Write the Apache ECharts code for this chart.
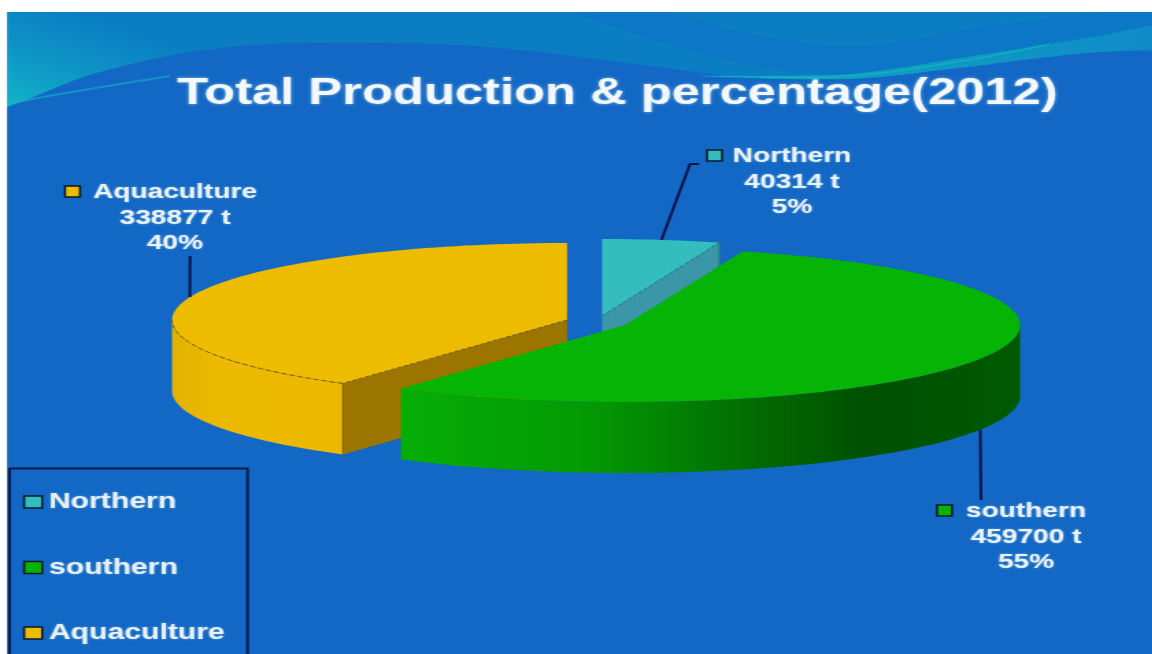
<!DOCTYPE html>
<html><head><meta charset="utf-8">
<style>
html,body{margin:0;padding:0;background:#fff;overflow:hidden}
#c{width:841px;height:654px;transform-origin:0 0;transform:scaleX(1.37)}
</style>
<script src="https://cdn.jsdelivr.net/npm/echarts@6/dist/echarts.min.js"></script>
</head><body><div id="c"></div>
<script>
// ---- data ----
const categories = ['Northern', 'southern', 'Aquaculture'];
const tonnes = [40314, 459700, 338877];
const percents = [5, 55, 40];
const titleText = 'Total Production & percentage(2012)';

// ---- layout (design pixels, the page stretches text & marks horizontally) ----
const S = 1.37, X = x => x / S;
const RX = 395, RY = 77, DEPTH = 71;
const INK = '#0a1248';
const look = {
  Northern: {c: [602, 316], top: '#33BDBD', wall: '#3B96A8', z: 4, cut: 'end', edge: '#2a6f80',
    leader: [[690, 164], [699, 164]], swatch: [707, 150], text: [792, 144]},
  southern: {c: [625, 325], top: '#05B405', z: 5, rimFrom: 'bottom', edge: '#078a07',
    leader: [[981, 500]], swatch: [937, 505], text: [1026, 499]},
  Aquaculture: {c: [567, 320], top: '#EDBB00', wall: '#9C7400', z: 3, cut: 'start', edge: '#7d5b00',
    leader: [[190, 256]], swatch: [65, 186], text: [175, 180]}
};
const total = tonnes.reduce((a, b) => a + b, 0);
const rad = d => d * Math.PI / 180;

function spans(i) {
  let a = 0;
  for (let k = 0; k < i; k++) a += tonnes[k] / total * 360;
  return [a, a + tonnes[i] / total * 360];
}
function arc(c, a0, a1, dy) {
  const out = [], n = Math.max(2, Math.ceil((a1 - a0) / 1.5));
  for (let k = 0; k <= n; k++) {
    const t = rad(a0 + (a1 - a0) * k / n);
    out.push([X(c[0] + RX * Math.sin(t)), c[1] - RY * Math.cos(t) + dy]);
  }
  return out;
}
function rimFill(name) {
  if (name === 'southern') return {type: 'linear', global: true, x: X(400), y: 0, x2: X(1020), y2: 0, colorStops: [
    {offset: 0, color: '#05AE05'}, {offset: .3, color: '#049A04'}, {offset: .55, color: '#026F02'},
    {offset: .75, color: '#005000'}, {offset: 1, color: '#005A00'}]};
  if (name === 'Aquaculture') return {type: 'linear', global: true, x: X(172), y: 0, x2: X(343), y2: 0, colorStops: [
    {offset: 0, color: '#E3B200'}, {offset: .25, color: '#EBB900'}, {offset: 1, color: '#EDB900'}]};
  return '#3B96A8';
}
function sliceItem(i) {
  const name = categories[i], L = look[name], c = L.c;
  const [a0, a1] = spans(i);
  const kids = [];
  const center = [X(c[0]), c[1]];
  // radial cut wall
  if (L.cut) {
    const a = L.cut === 'end' ? a1 : a0;
    const rim = arc(c, a, a + 1e-3, 0)[0];
    kids.push({type: 'polygon', shape: {points: [center, rim, [rim[0], rim[1] + DEPTH], [center[0], center[1] + DEPTH]]},
      style: {fill: L.wall}, z2: 1});
    kids.push({type: 'polyline', shape: {points: [rim, [rim[0], rim[1] + DEPTH]]},
      style: {stroke: L.edge, lineWidth: 1, fill: null}, z2: 5});
  }
  // outer rim, front half only
  const f0 = Math.max(a0, 90), f1 = Math.min(a1, 270);
  if (f1 > f0) {
    const up = arc(c, f0, f1, 0), low = arc(c, f0, f1, DEPTH).reverse();
    kids.push({type: 'polygon', shape: {points: up.concat(low)}, style: {fill: rimFill(name)}, z2: 2});
  }
  // top face
  kids.push({type: 'polygon', shape: {points: [center].concat(arc(c, a0, a1, 0))}, style: {fill: L.top}, z2: 3});
  // dashed edges of the top face
  if (L.cut) {
    const a = L.cut === 'end' ? a1 : a0;
    const rim = arc(c, a, a + 1e-3, 0)[0];
    kids.push({type: 'polyline', shape: {points: [center, rim]},
      style: {stroke: L.edge, lineWidth: 1, lineDash: [3, 2], fill: null}, z2: 4});
    if (f1 > f0) kids.push({type: 'polyline', shape: {points: arc(c, f0, f1, 0)},
      style: {stroke: L.edge, lineWidth: 1, lineDash: [4, 2], fill: null}, z2: 4});
  }
  // leader line, anchored at the slice's middle angle
  const mid = (a0 + a1) / 2;
  const anchor = arc(c, mid, mid + 1e-3, L.rimFrom ? DEPTH : 0)[0];
  kids.push({type: 'polyline', shape: {points: [anchor].concat(L.leader.map(p => [X(p[0]), p[1]]))},
    style: {stroke: INK, lineWidth: 2, fill: null}, z2: 6});
  // data label
  kids.push({type: 'rect', shape: {x: X(L.swatch[0]), y: L.swatch[1], width: X(15), height: 11},
    style: {fill: L.top, stroke: '#0a1a2a', lineWidth: 1.6}, z2: 6});
  kids.push({type: 'text', x: X(L.text[0]), y: L.text[1], z2: 6, style: {
    text: name + '\n' + tonnes[i] + ' t\n' + percents[i] + '%',
    align: 'center', verticalAlign: 'top', lineHeight: 25.5,
    font: 'bold 20.5px "Liberation Sans"', fill: '#EAF3FB',
    textShadowColor: 'rgba(225,240,255,.55)', textShadowBlur: 2}});
  return {type: 'group', children: kids};
}

const chart = echarts.init(document.getElementById('c'), null, {renderer: 'canvas'});
chart.setOption({
  animation: false,
  backgroundColor: '#1268C4',
  title: {text: titleText, left: X(177), top: 75, padding: 0,
    textStyle: {fontFamily: 'Liberation Sans', fontWeight: 'bold', fontSize: 37, color: '#F2F8FD',
      textShadowColor: 'rgba(225,240,255,.6)', textShadowBlur: 3}},
  legend: {orient: 'vertical', left: X(23), top: 491, padding: 0, height: 300, icon: 'rect', itemWidth: X(18), itemHeight: 12, itemGap: 43.5,
    data: categories, selectedMode: false,
    itemStyle: {borderColor: '#0a1a2a', borderWidth: 1.6},
    textStyle: {fontFamily: 'Liberation Sans', fontWeight: 'bold', fontSize: 22, color: '#E6F1FB',
      textShadowColor: 'rgba(225,240,255,.5)', textShadowBlur: 2}},
  graphic: {elements: [
    {type: 'polygon', z: 0, shape: {smooth: .35, points: [[-60,135],[7,106],[X(100),72],[X(230),47],[X(400),43],[X(520),50],[X(650),66],[X(752),78],[X(850),78],[X(950),68],[X(1085),53],[X(1300),36],[X(1300),-60],[-60,-60]]},
      style: {fill: {type: 'linear', global: true, x: X(30), y: 108, x2: X(90), y2: 14, colorStops: [{offset: 0, color: '#12B0C6'}, {offset: .45, color: '#0E96C6'}, {offset: 1, color: '#0A7DC3'}]}}},
    {type: 'polygon', z: 0, shape: {smooth: .35, points: [[X(560),4],[X(660),42],[X(760),66],[X(850),74],[X(960),57],[X(1300),-4],[X(1000),24],[X(860),46],[X(740),32],[X(640),4]]},
      style: {fill: '#0E70CA', opacity: .45}},
    {type: 'polygon', z: 0, shape: {smooth: .3, points: [[X(700),76],[X(850),79],[X(950),69],[X(1085),53],[X(1300),37],[X(1300),-2],[X(1100),36],[X(960),58],[X(850),74]]},
      style: {fill: {type: 'linear', global: true, x: X(720), y: 0, x2: X(1152), y2: 0, colorStops: [{offset: 0, color: '#10A8C2'}, {offset: 1, color: '#0F8CC8'}]}}},
    {type: 'polyline', z: 0, shape: {smooth: .4, points: [[X(7),104],[X(60),94],[X(170),76]]},
      style: {stroke: '#18B8C8', lineWidth: 2, opacity: .55, fill: null}},
    {type: 'polyline', z: 0, shape: {smooth: .4, points: [[X(760),77],[X(850),76],[X(950),63],[X(1050),44]]},
      style: {stroke: '#14C0B8', lineWidth: 1.5, opacity: .6, fill: null}},
    {type: 'rect', z: 1, shape: {x: 0, y: 0, width: 841, height: 12}, style: {fill: '#fff'}},
    {type: 'rect', z: 1, shape: {x: 0, y: 0, width: X(7), height: 654}, style: {fill: '#fff'}},
    {type: 'rect', z: 1, shape: {x: X(9.5), y: 468.5, width: X(238), height: 240}, style: {fill: null, stroke: '#0a1a4a', lineWidth: 2}}
  ]},
  series: categories.map((name, i) => ({
    type: 'custom', name, coordinateSystem: 'none', z: look[name].z,
    itemStyle: {color: look[name].top},
    data: [tonnes[i]],
    renderItem: () => sliceItem(i)
  }))
});
</script></body></html>
